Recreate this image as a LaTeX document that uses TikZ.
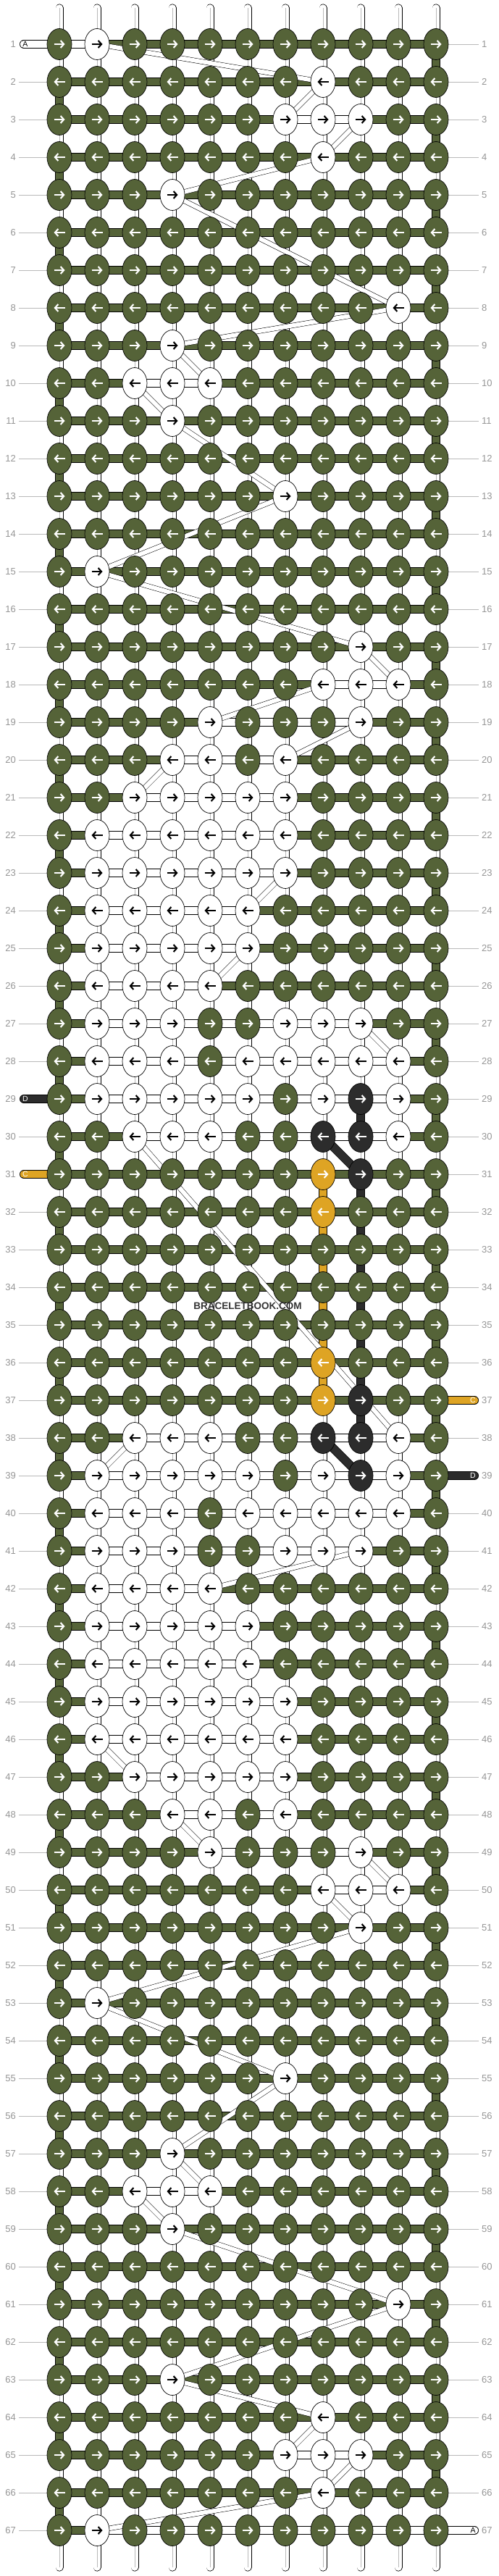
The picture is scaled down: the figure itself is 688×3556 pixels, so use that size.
\documentclass[tikz,border=0pt]{standalone}
\usepackage{fontspec}
\setmainfont{Liberation Sans}
\usetikzlibrary{shapes.geometric,arrows.meta}
\pgfdeclarelayer{bg}
\pgfdeclarelayer{bars}
\pgfdeclarelayer{diag}
\pgfsetlayers{bg,bars,diag,main}
\definecolor{G}{RGB}{85,99,56}
\definecolor{W}{RGB}{255,255,255}
\definecolor{K}{RGB}{44,44,44}
\definecolor{O}{RGB}{222,164,36}
\colorlet{aG}{white}\colorlet{aW}{black}\colorlet{aK}{white}\colorlet{aO}{white}
\definecolor{labgray}{RGB}{150,150,150}
\definecolor{linegray}{RGB}{185,185,185}
\tikzset{
 knot/.style={ellipse, draw=black, line width=0.7pt, minimum width=34pt, minimum height=43pt, inner sep=0pt},
 arr/.style={line width=2.1pt, -{Straight Barb[length=4.5pt,width=10pt]}},
 band/.style={draw=black, line width=12pt, postaction={draw=#1, line width=10.6pt}},
 vstring/.style={draw=black, line width=0.7pt, double=white, double distance=9.6pt},
 core/.style={draw=linegray, line width=0.7pt},
 diagline/.style={draw=black, line width=0.5pt, double=white, double distance=6pt},
 lab/.style={text=labgray, font=\fontsize{13}{13}\selectfont, inner sep=0pt},
 labline/.style={draw=linegray, line width=0.8pt},
 stubtxt/.style={font=\fontsize{10.5}{10.5}\selectfont, inner sep=0pt},
}
\newcommand\krow[4]{%
  \foreach \kc [count=\c] in {#4}{%
    \node[knot, fill=\kc] (k-#1-\c) at ({30+52*\c},{9+52*#1}) {};
    \ifodd#1\relax
      \draw[arr, draw=a\kc] ([xshift=-7.5pt]k-#1-\c.center) -- ([xshift=7.5pt]k-#1-\c.center);
    \else
      \draw[arr, draw=a\kc] ([xshift=7.5pt]k-#1-\c.center) -- ([xshift=-7.5pt]k-#1-\c.center);
    \fi
  }%
  \begin{pgfonlayer}{bars}%
  \foreach \c in {1,...,10}{%
    \pgfmathtruncatemacro\cn{\c+1}%
    \pgfmathtruncatemacro\isw{(\c>=#2)&&(\cn<=#3)}%
    \ifnum\isw=1 \draw[band=W] (k-#1-\c.center) -- (k-#1-\cn.center);%
    \else \draw[band=G] (k-#1-\c.center) -- (k-#1-\cn.center);\fi
  }%
  \end{pgfonlayer}}
\begin{document}
\begin{tikzpicture}[x=1pt,y=-1pt]
\begin{pgfonlayer}{bg}
\fill[white] (0,0) rectangle (688,3556);
\end{pgfonlayer}
\useasboundingbox (0,0) rectangle (688,3556);
\krow{1}{1}{2}{G,W,G,G,G,G,G,G,G,G,G}
\krow{2}{8}{8}{G,G,G,G,G,G,G,W,G,G,G}
\krow{3}{7}{9}{G,G,G,G,G,G,W,W,W,G,G}
\krow{4}{8}{8}{G,G,G,G,G,G,G,W,G,G,G}
\krow{5}{4}{4}{G,G,G,W,G,G,G,G,G,G,G}
\krow{6}{0}{0}{G,G,G,G,G,G,G,G,G,G,G}
\krow{7}{0}{0}{G,G,G,G,G,G,G,G,G,G,G}
\krow{8}{10}{10}{G,G,G,G,G,G,G,G,G,W,G}
\krow{9}{4}{4}{G,G,G,W,G,G,G,G,G,G,G}
\krow{10}{3}{5}{G,G,W,W,W,G,G,G,G,G,G}
\krow{11}{4}{4}{G,G,G,W,G,G,G,G,G,G,G}
\krow{12}{0}{0}{G,G,G,G,G,G,G,G,G,G,G}
\krow{13}{7}{7}{G,G,G,G,G,G,W,G,G,G,G}
\krow{14}{0}{0}{G,G,G,G,G,G,G,G,G,G,G}
\krow{15}{2}{2}{G,W,G,G,G,G,G,G,G,G,G}
\krow{16}{0}{0}{G,G,G,G,G,G,G,G,G,G,G}
\krow{17}{9}{9}{G,G,G,G,G,G,G,G,W,G,G}
\krow{18}{8}{10}{G,G,G,G,G,G,G,W,W,W,G}
\krow{19}{5}{9}{G,G,G,G,W,G,G,G,W,G,G}
\krow{20}{4}{7}{G,G,G,W,W,G,W,G,G,G,G}
\krow{21}{3}{7}{G,G,W,W,W,W,W,G,G,G,G}
\krow{22}{2}{7}{G,W,W,W,W,W,W,G,G,G,G}
\krow{23}{2}{7}{G,W,W,W,W,W,W,G,G,G,G}
\krow{24}{2}{6}{G,W,W,W,W,W,G,G,G,G,G}
\krow{25}{2}{6}{G,W,W,W,W,W,G,G,G,G,G}
\krow{26}{2}{5}{G,W,W,W,W,G,G,G,G,G,G}
\krow{27}{2}{9}{G,W,W,W,G,G,W,W,W,G,G}
\krow{28}{2}{10}{G,W,W,W,G,W,W,W,W,W,G}
\krow{29}{2}{10}{G,W,W,W,W,W,G,W,K,W,G}
\krow{30}{3}{10}{G,G,W,W,W,G,G,K,K,W,G}
\krow{31}{0}{0}{G,G,G,G,G,G,G,O,K,G,G}
\krow{32}{0}{0}{G,G,G,G,G,G,G,O,G,G,G}
\krow{33}{0}{0}{G,G,G,G,G,G,G,G,G,G,G}
\krow{34}{0}{0}{G,G,G,G,G,G,G,G,G,G,G}
\krow{35}{0}{0}{G,G,G,G,G,G,G,G,G,G,G}
\krow{36}{0}{0}{G,G,G,G,G,G,G,O,G,G,G}
\krow{37}{0}{0}{G,G,G,G,G,G,G,O,K,G,G}
\krow{38}{3}{10}{G,G,W,W,W,G,G,K,K,W,G}
\krow{39}{2}{10}{G,W,W,W,W,W,G,W,K,W,G}
\krow{40}{2}{10}{G,W,W,W,G,W,W,W,W,W,G}
\krow{41}{2}{9}{G,W,W,W,G,G,W,W,W,G,G}
\krow{42}{2}{5}{G,W,W,W,W,G,G,G,G,G,G}
\krow{43}{2}{6}{G,W,W,W,W,W,G,G,G,G,G}
\krow{44}{2}{6}{G,W,W,W,W,W,G,G,G,G,G}
\krow{45}{2}{7}{G,W,W,W,W,W,W,G,G,G,G}
\krow{46}{2}{7}{G,W,W,W,W,W,W,G,G,G,G}
\krow{47}{3}{7}{G,G,W,W,W,W,W,G,G,G,G}
\krow{48}{4}{7}{G,G,G,W,W,G,W,G,G,G,G}
\krow{49}{5}{9}{G,G,G,G,W,G,G,G,W,G,G}
\krow{50}{8}{10}{G,G,G,G,G,G,G,W,W,W,G}
\krow{51}{9}{9}{G,G,G,G,G,G,G,G,W,G,G}
\krow{52}{0}{0}{G,G,G,G,G,G,G,G,G,G,G}
\krow{53}{2}{2}{G,W,G,G,G,G,G,G,G,G,G}
\krow{54}{0}{0}{G,G,G,G,G,G,G,G,G,G,G}
\krow{55}{7}{7}{G,G,G,G,G,G,W,G,G,G,G}
\krow{56}{0}{0}{G,G,G,G,G,G,G,G,G,G,G}
\krow{57}{4}{4}{G,G,G,W,G,G,G,G,G,G,G}
\krow{58}{3}{5}{G,G,W,W,W,G,G,G,G,G,G}
\krow{59}{4}{4}{G,G,G,W,G,G,G,G,G,G,G}
\krow{60}{0}{0}{G,G,G,G,G,G,G,G,G,G,G}
\krow{61}{10}{10}{G,G,G,G,G,G,G,G,G,W,G}
\krow{62}{0}{0}{G,G,G,G,G,G,G,G,G,G,G}
\krow{63}{4}{4}{G,G,G,W,G,G,G,G,G,G,G}
\krow{64}{8}{8}{G,G,G,G,G,G,G,W,G,G,G}
\krow{65}{7}{9}{G,G,G,G,G,G,W,W,W,G,G}
\krow{66}{8}{8}{G,G,G,G,G,G,G,W,G,G,G}
\krow{67}{2}{11}{G,W,G,G,G,G,G,G,G,G,G}
% vertical connectors, strings
\begin{pgfonlayer}{bars}
\foreach \r in {1,...,66}{
  \pgfmathtruncatemacro\rn{\r+1}
  \foreach \c in {1,...,11}{
    \pgfmathtruncatemacro\vc{((\c==11)&&(mod(\r,2)==1)) + ((\c==1)&&(mod(\r,2)==0)) + 2*((\c==8)&&(\r>=31)&&(\r<=36)) + 3*((\c==9)&&((\r==29)||((\r>=31)&&(\r<=37))))}
    \ifcase\vc
      \draw[vstring] (k-\r-\c.center) -- (k-\rn-\c.center);
      \draw[core] (k-\r-\c.center) -- (k-\rn-\c.center);
    \or \draw[band=G] (k-\r-\c.center) -- (k-\rn-\c.center);
    \or \draw[band=O] (k-\r-\c.center) -- (k-\rn-\c.center);
    \or \draw[band=K] (k-\r-\c.center) -- (k-\rn-\c.center);
    \fi
  }}
\foreach \c in {1,...,11}{
  \coordinate (t-\c) at ({30+52*\c},11);
  \coordinate (b-\c) at ({30+52*\c},3544);
  \draw[vstring, line cap=round] (t-\c) -- (k-1-\c.center);
  \draw[core] (t-\c) -- (k-1-\c.center);
  \draw[vstring, line cap=round] (b-\c) -- (k-67-\c.center);
  \draw[core] (b-\c) -- (k-67-\c.center);
}
\draw[band=K] (k-30-8.center) -- (k-31-9.center);
\draw[band=K] (k-38-8.center) -- (k-39-9.center);
% thread stubs
\coordinate (sl-1) at (33,61);
\coordinate (sl-29) at (33,1517);
\coordinate (sl-31) at (33,1621);
\coordinate (sr-37) at (655,1933);
\coordinate (sr-39) at (655,2037);
\coordinate (sr-67) at (655,3493);
\draw[band=W, line cap=round] (sl-1) -- (k-1-1.center);
\draw[band=K, line cap=round] (sl-29) -- (k-29-1.center);
\draw[band=O, line cap=round] (sl-31) -- (k-31-1.center);
\draw[band=O, line cap=round] (sr-37) -- (k-37-11.center);
\draw[band=K, line cap=round] (sr-39) -- (k-39-11.center);
\draw[band=W, line cap=round] (sr-67) -- (k-67-11.center);
\end{pgfonlayer}
% diagonal carried threads
\begin{pgfonlayer}{diag}
\foreach \a/\b/\p/\q in {1/2/2/8, 2/8/3/7, 3/9/4/8, 4/8/5/4, 5/4/8/10, 8/10/9/4, 9/4/10/5, 10/3/11/4, 11/4/13/7, 13/7/15/2, 15/2/17/9, 17/9/18/10, 18/8/19/5, 19/9/20/7, 20/4/21/3, 23/7/24/6, 25/6/26/5, 27/9/28/10, 30/3/38/10, 38/3/39/2, 41/9/42/5, 46/2/47/3, 48/4/49/5, 49/9/50/10, 50/8/51/9, 51/9/53/2, 53/2/55/7, 55/7/57/4, 57/4/58/5, 58/3/59/4, 59/4/61/10, 61/10/63/4, 63/4/64/8, 64/8/65/7, 65/9/66/8, 66/8/67/2}{
  \draw[diagline] (k-\a-\b.center) -- (k-\p-\q.center);
}
\end{pgfonlayer}
% stub letters
\node[stubtxt, text=black] (tl-1) at (35,61) {A};
\node[stubtxt, text=white] (tl-29) at (35,1517) {D};
\node[stubtxt, text=white] (tl-31) at (35,1621) {C};
\node[stubtxt, text=white] (tr-37) at (653,1933) {C};
\node[stubtxt, text=white] (tr-39) at (653,2037) {D};
\node[stubtxt, text=black] (tr-67) at (653,3493) {A};
% row labels
\foreach \r in {1,...,67}{
  \node[lab, anchor=east] (nl-\r) at (22,{9+52*\r}) {\r};
  \node[lab, anchor=west] (nr-\r) at (665,{9+52*\r}) {\r};
  \coordinate (ll-\r) at (26,{9+52*\r});
  \coordinate (rl-\r) at (661,{9+52*\r});
  \pgfmathtruncatemacro\skl{(\r==1)||(\r==29)||(\r==31)}
  \pgfmathtruncatemacro\skr{(\r==37)||(\r==39)||(\r==67)}
  \ifnum\skl=0 \begin{pgfonlayer}{bars}\draw[labline] (ll-\r) -- (k-\r-1.center);\end{pgfonlayer}\fi
  \ifnum\skr=0 \begin{pgfonlayer}{bars}\draw[labline] (rl-\r) -- (k-\r-11.center);\end{pgfonlayer}\fi
}
\node[font=\bfseries\fontsize{13.5}{14}\selectfont, text=black!80, inner sep=0pt] (wm) at (342,1803) {BRACELETBOOK.COM};
\end{tikzpicture}
\end{document}
